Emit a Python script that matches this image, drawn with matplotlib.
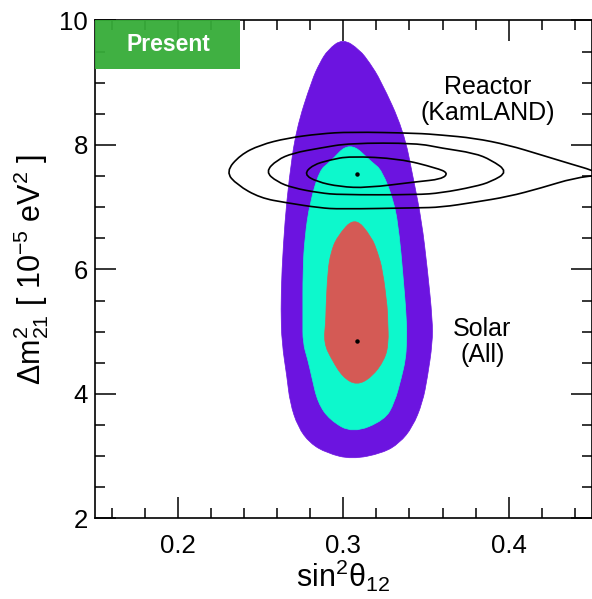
import numpy as np
import matplotlib
matplotlib.use("Agg")
import matplotlib.pyplot as plt
from matplotlib.patches import PathPatch, Rectangle
from matplotlib.path import Path
from matplotlib.ticker import MultipleLocator

plt.rcParams['font.family'] = ['Liberation Sans', 'DejaVu Sans']
plt.rcParams['mathtext.fontset'] = 'custom'
plt.rcParams['mathtext.rm'] = 'Liberation Sans'
plt.rcParams['mathtext.it'] = 'Liberation Sans'
plt.rcParams['mathtext.default'] = 'regular'

# Solar (All) allowed regions, outlines
solar_3s_x = [0.2997, 0.3099, 0.3160, 0.3226, 0.3364, 0.3425, 0.3473, 0.3509, 0.3539, 0.3539,
              0.3509, 0.3479, 0.3419, 0.3340, 0.3238, 0.3051, 0.2901, 0.2798, 0.2726, 0.2678,
              0.2660, 0.2629, 0.2623, 0.2629, 0.2648, 0.2672, 0.2714, 0.2810, 0.2858, 0.2907]
solar_3s_y = [9.71, 9.53, 9.32, 9.04, 8.24, 7.44, 6.79, 5.99, 5.19, 4.82,
              4.27, 3.86, 3.47, 3.21, 3.05, 2.95, 3.05, 3.21, 3.47, 3.86,
              4.27, 4.82, 5.35, 5.99, 6.79, 7.44, 8.24, 9.04, 9.32, 9.53]

solar_2s_x = [0.3039, 0.3178, 0.3232, 0.3310, 0.3340, 0.3358, 0.3383, 0.3383, 0.3376, 0.3352,
              0.3310, 0.3250, 0.3057, 0.2919, 0.2846, 0.2810, 0.2786, 0.2756, 0.2756, 0.2756,
              0.2768, 0.2798, 0.2858, 0.2913]
solar_2s_y = [8.06, 7.71, 7.60, 7.07, 6.52, 5.99, 5.19, 4.82, 4.55, 4.27,
              3.86, 3.58, 3.37, 3.58, 3.86, 4.27, 4.55, 4.82, 5.19, 5.99,
              6.52, 7.07, 7.60, 7.71]

solar_1s_x = [0.3069, 0.3172, 0.3208, 0.3238, 0.3268, 0.3268, 0.3274, 0.3250, 0.3172, 0.3081,
              0.2997, 0.2931, 0.2882, 0.2895, 0.2895, 0.2907, 0.2925, 0.2961]
solar_1s_y = [6.85, 6.52, 6.27, 5.99, 5.35, 5.19, 4.82, 4.55, 4.27, 4.14,
              4.27, 4.55, 4.82, 5.19, 5.35, 5.99, 6.27, 6.52]

# Reactor (KamLAND) contours
kam_3s_x = [0.2290, 0.2377, 0.2497, 0.2660, 0.2858, 0.3039, 0.3443, 0.3593, 0.3792, 0.3997,
            0.4196, 0.4394, 0.4497, 0.4560, 0.4394, 0.4196, 0.3997, 0.3792, 0.3593, 0.3443,
            0.2979, 0.2858, 0.2660, 0.2497, 0.2358]
kam_3s_y = [7.57, 7.84, 8.00, 8.11, 8.18, 8.21, 8.19, 8.16, 8.11, 8.00,
            7.84, 7.68, 7.60, 7.52, 7.47, 7.31, 7.17, 7.08, 7.00, 6.99,
            6.97, 6.99, 7.07, 7.15, 7.36]

kam_2s_x = [0.2530, 0.2599, 0.2696, 0.2858, 0.3039, 0.3443, 0.3593, 0.3792, 0.3894, 0.3995,
            0.3894, 0.3792, 0.3593, 0.3443, 0.2979, 0.2858, 0.2696, 0.2599]
kam_2s_y = [7.57, 7.76, 7.87, 7.95, 8.03, 8.03, 7.95, 7.87, 7.76, 7.57,
            7.41, 7.33, 7.23, 7.20, 7.20, 7.23, 7.31, 7.41]

kam_1s_x = [0.2762, 0.2816, 0.2919, 0.3039, 0.3340, 0.3563, 0.3635, 0.3593, 0.3443, 0.3142,
            0.2979, 0.2840]
kam_1s_y = [7.53, 7.68, 7.76, 7.82, 7.78, 7.63, 7.55, 7.45, 7.41, 7.31,
            7.33, 7.41]

# best fit points
best_x = [0.308, 0.308]
best_y = [7.54, 4.85]


def smooth_path(xs, ys):
    # closed quadratic b-spline, the read points are the control points
    p = np.column_stack([xs, ys])
    n = len(p)
    mids = (p + np.roll(p, -1, axis=0)) / 2
    verts = [mids[-1]]
    codes = [Path.MOVETO]
    for i in range(n):
        verts += [p[i], mids[i]]
        codes += [Path.CURVE3, Path.CURVE3]
    verts.append(mids[-1])
    codes.append(Path.CLOSEPOLY)
    return Path(verts, codes)


fig = plt.figure(figsize=(5.92, 5.99), dpi=100)
ax = fig.add_axes([0.1605, 0.1344, 0.8387, 0.8314])

colors = ['#6C14E0', '#0DF8CC', '#D45A55']
for xs, ys, c in zip([solar_3s_x, solar_2s_x, solar_1s_x],
                     [solar_3s_y, solar_2s_y, solar_1s_y], colors):
    ax.add_patch(PathPatch(smooth_path(xs, ys), facecolor=c, edgecolor=c,
                           lw=0.5, zorder=1))

for xs, ys in zip([kam_3s_x, kam_2s_x, kam_1s_x], [kam_3s_y, kam_2s_y, kam_1s_y]):
    ax.add_patch(PathPatch(smooth_path(xs, ys), fill=False, edgecolor='black',
                           lw=1.2, zorder=3))

ax.plot(best_x, best_y, 'o', color='black', ms=2.2, zorder=4)

ax.set_xlim(0.15, 0.45)
ax.set_ylim(2, 10)

ax.xaxis.set_major_locator(MultipleLocator(0.1))
ax.xaxis.set_minor_locator(MultipleLocator(0.02))
ax.yaxis.set_major_locator(MultipleLocator(2))
ax.yaxis.set_minor_locator(MultipleLocator(0.5))
ax.set_xticks([0.2, 0.3, 0.4])
ax.set_xticklabels(['0.2', '0.3', '0.4'])
ax.tick_params(which='both', direction='in', top=True, right=True, width=1.1)
ax.tick_params(which='major', length=15, labelsize=18.5)
ax.tick_params(axis='x', which='major', pad=11)
ax.tick_params(axis='y', which='major', pad=5)
ax.tick_params(which='minor', length=7)
for s in ax.spines.values():
    s.set_linewidth(1.2)

ax.set_xlabel(r'sin$^2\theta_{12}$', fontsize=22, labelpad=0)
ax.set_ylabel(r'$\Delta$m$^2_{21}$ [ 10$^{-5}$ eV$^2$ ]', fontsize=22, labelpad=6)

ax.add_patch(Rectangle((0.15, 9.22), 0.0875, 0.78, facecolor='#36AC38',
                       edgecolor='none', alpha=0.95, zorder=5, clip_on=False))
ax.text(0.1943, 9.607, 'Present', color='white', fontsize=16.5, fontweight='bold',
        ha='center', va='center', zorder=6)

ax.text(0.387, 8.72, 'Reactor\n(KamLAND)', fontsize=18, ha='center', va='center',
        linespacing=1.1)
ax.text(0.384, 4.83, 'Solar\n(All)', fontsize=18, ha='center', va='center',
        linespacing=1.1)

fig.savefig('out.png', dpi=100)
